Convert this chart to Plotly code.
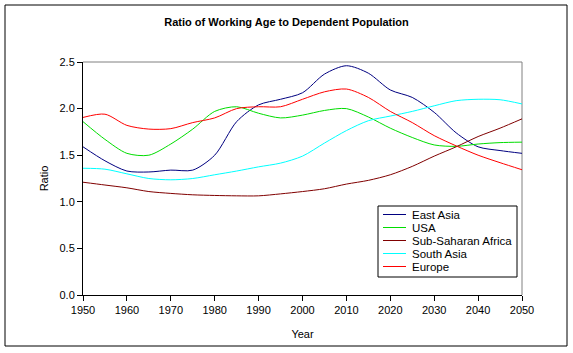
import plotly.graph_objects as go

years = list(range(1950, 2051, 5))

east_asia = [1.59, 1.44, 1.33, 1.32, 1.34, 1.34, 1.50, 1.86, 2.04, 2.10, 2.17,
             2.37, 2.46, 2.38, 2.20, 2.12, 1.96, 1.74, 1.59, 1.55, 1.52]
usa = [1.86, 1.67, 1.52, 1.50, 1.62, 1.78, 1.97, 2.02, 1.95, 1.90, 1.93,
       1.98, 2.00, 1.91, 1.79, 1.69, 1.61, 1.595, 1.62, 1.635, 1.64]
ssa = [1.21, 1.18, 1.15, 1.11, 1.09, 1.075, 1.068, 1.064, 1.064, 1.085, 1.11,
       1.14, 1.19, 1.23, 1.29, 1.38, 1.49, 1.59, 1.70, 1.79, 1.89]
south_asia = [1.36, 1.35, 1.30, 1.25, 1.236, 1.25, 1.29, 1.33, 1.375, 1.415, 1.49,
              1.63, 1.764, 1.87, 1.92, 1.97, 2.03, 2.085, 2.10, 2.095, 2.05]
europe = [1.905, 1.94, 1.82, 1.78, 1.785, 1.85, 1.90, 2.00, 2.02, 2.02, 2.10,
          2.18, 2.21, 2.12, 1.97, 1.85, 1.71, 1.60, 1.50, 1.42, 1.344]

names = ["East Asia", "USA", "Sub-Saharan Africa", "South Asia", "Europe"]
values = [east_asia, usa, ssa, south_asia, europe]
colors = ["#000080", "#00DD00", "#800000", "#00FFFF", "#FF0000"]

x_ticks = list(range(1950, 2051, 10))
y_ticks = [0.0, 0.5, 1.0, 1.5, 2.0, 2.5]

# plot area in pixels (for paper-coordinate conversions)
L, R, T, B = 83, 522, 62, 295
W, H = R - L, B - T


def px(x):
    return (x - L) / W


def py(y):
    return (B - y) / H


fig = go.Figure()
for name, vals, col in zip(names, values, colors):
    fig.add_trace(go.Scatter(x=years, y=vals, name=name, mode="lines",
                             line=dict(color=col, width=1, shape="spline", smoothing=0.8),
                             showlegend=False))

font = "Liberation Sans, Arial, sans-serif"
fig.update_layout(
    width=573, height=353,
    margin=dict(l=L, r=573 - R, t=T, b=353 - B),
    paper_bgcolor="white", plot_bgcolor="white",
    font=dict(family=font, size=11, color="black"),
    title=dict(text="<b>Ratio of Working Age to Dependent Population</b>",
               x=0.5, xanchor="center", y=1 - 22 / 353, yanchor="middle",
               font=dict(size=11)),
    xaxis=dict(range=[1950, 2050], tickvals=x_ticks, ticks="outside", ticklen=5,
               tickcolor="black", showline=True, linecolor="black", linewidth=1,
               showgrid=False, zeroline=False, tickfont=dict(size=11),
               title=dict(text="Year", standoff=15, font=dict(size=11))),
    yaxis=dict(range=[0, 2.5], tickvals=y_ticks, tickformat=".1f", ticks="outside",
               ticklen=5, tickcolor="black", showline=True, linecolor="black",
               linewidth=1, showgrid=False, zeroline=False, tickfont=dict(size=11),
               title=dict(text="Ratio", standoff=8, font=dict(size=11))),
    showlegend=False,
)

# gray top and right borders of plot area
fig.add_shape(type="line", xref="paper", yref="paper", x0=0, x1=1, y0=1, y1=1,
              line=dict(color="#808080", width=1), layer="below")
fig.add_shape(type="line", xref="paper", yref="paper", x0=1, x1=1, y0=0, y1=1,
              line=dict(color="#808080", width=1), layer="below")
# outer chart border
fig.add_shape(type="rect", xref="paper", yref="paper",
              x0=px(5), x1=px(567), y0=py(346), y1=py(5),
              line=dict(color="black", width=1))

# legend box
fig.add_shape(type="rect", xref="paper", yref="paper",
              x0=px(378), x1=px(517), y0=py(277), y1=py(206),
              line=dict(color="black", width=1), fillcolor="white")
row_y = [214.5, 227.5, 240.5, 253.5, 266.5]
for name, col, ry in zip(names, colors, row_y):
    fig.add_shape(type="line", xref="paper", yref="paper",
                  x0=px(383), x1=px(406), y0=py(ry), y1=py(ry),
                  line=dict(color=col, width=1))
    fig.add_annotation(x=px(410), y=py(ry), xref="paper", yref="paper",
                       text=name, showarrow=False, xanchor="left", yanchor="middle",
                       font=dict(size=11.5, color="black"))

fig.write_html("out.html")
